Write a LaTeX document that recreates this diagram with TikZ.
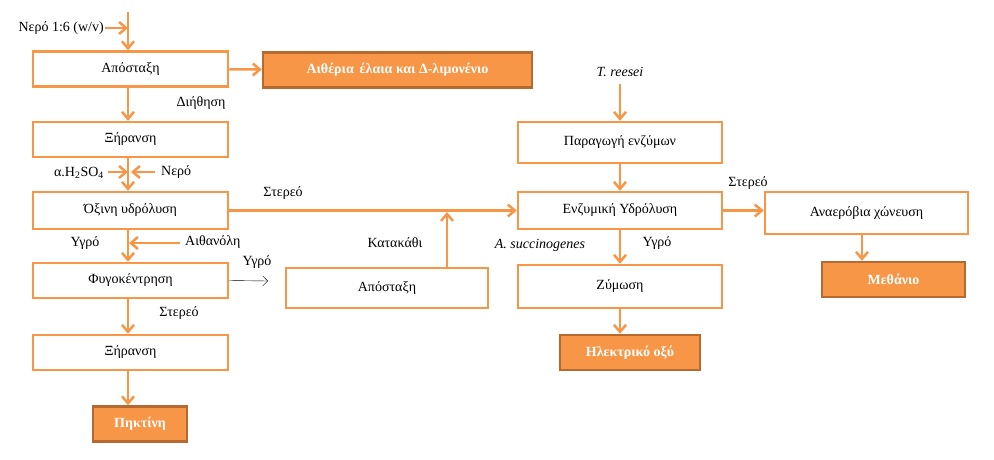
\documentclass[tikz,border=0pt]{standalone}
\usepackage{fontspec}
\setmainfont{Liberation Serif}
\usetikzlibrary{arrows.meta}
\definecolor{org}{HTML}{F79646}
\definecolor{orgd}{HTML}{B66A2F}
\begin{document}
\begin{tikzpicture}[x=1pt,y=-1pt,
 box/.style={draw=org,line width=2.5pt,fill=white,minimum height=35pt,minimum width=195pt,font=\fontsize{14}{16}\selectfont,inner sep=0},
 res/.style={draw=orgd,line width=2.5pt,fill=org,text=white,font=\bfseries\fontsize{14}{16}\selectfont,minimum height=35pt,inner sep=0},
 arr/.style={draw=org,line width=2.5pt,-{Straight Barb[length=7pt,width=12pt,line width=2.5pt]}},
 lab/.style={font=\fontsize{14}{16}\selectfont,inner sep=1pt}]
\useasboundingbox (0,0) rectangle (994,459);
\node[box] (a1) at (130.5,69) {Απόσταξη};
\node[res,minimum width=269pt] (oil) at (397.5,70) {Αιθέρια\, έλαια και Δ-λιμονένιο};
\node[box] (x1) at (130.5,139.5) {Ξήρανση};
\node[box,minimum height=37pt] (ox) at (130.5,210.5) {Όξινη υδρόλυση};
\node[box] (fy) at (130.5,280.5) {Φυγοκέντρηση};
\node[box] (x2) at (130.5,352.5) {Ξήρανση};
\node[res,minimum width=94pt] (pk) at (140,424) {Πηκτίνη};
\node[box,minimum width=202pt,minimum height=40pt] (a2) at (387,288) {Απόσταξη};
\node[box,minimum width=204pt,minimum height=41pt] (par) at (620,142.5) {Παραγωγή ενζύμων};
\node[box,minimum width=204pt,minimum height=37pt] (enz) at (620,210.5) {Ενζυμική Υδρόλυση};
\node[box,minimum width=204pt,minimum height=43pt] (zy) at (620,286.5) {Ζύμωση};
\node[res,minimum width=140pt] (el) at (630,352.5) {Ηλεκτρικό οξύ};
\node[box,minimum width=203pt,minimum height=42pt] (an) at (866.5,213) {Αναερόβια χώνευση};
\node[res,minimum width=143pt] (me) at (893.5,279.5) {Μεθάνιο};
\coordinate (top) at (128,12);
\coordinate (w1) at (105,28);
\coordinate (w1e) at (128,28);
\node[lab,anchor=east] (l1) at (105,28) {Νερό 1:6 (w/v)};
\draw[arr] (top) -- (top|-a1.north);
\draw[arr] (w1) -- (w1e);
\draw[arr] (a1) -- (oil);
\draw[arr] (a1.south-|top) -- (x1.north-|top);
\node[lab] (l2) at (201,103) {Διήθηση};
\draw[arr] (x1.south-|top) -- (ox.north-|top);
\coordinate (h1) at (108,172); \coordinate (h1e) at (128,172);
\coordinate (n1) at (155,172); \coordinate (n1e) at (131,172);
\draw[arr] (h1) -- (h1e);
\draw[arr] (n1) -- (n1e);
\node[lab,anchor=east] (l3) at (105,173) {α.H\textsubscript{2}SO\textsubscript{4}};
\node[lab,anchor=west] (l4) at (160,172) {Νερό};
\draw[arr] (ox.east) -- (enz.west);
\node[lab] (l5) at (283,193) {Στερεό};
\draw[arr] (a2.north-|447,0) -- (447,212);
\node[lab] (l6) at (395,243) {Κατακάθι};
\draw[arr] (ox.south-|top) -- (fy.north-|top);
\coordinate (et) at (180,243); \coordinate (ete) at (129,243);
\draw[arr] (et) -- (ete);
\node[lab] (l7) at (85,243) {Υγρό};
\node[lab,anchor=west] (l8) at (184,242) {Αιθανόλη};
\coordinate (fe) at (268,281);
\draw[-{Straight Barb[length=5pt,width=10pt]},thin] (fy.east) -- (fe);
\node[lab] (l9) at (257,262) {Υγρό};
\draw[arr] (fy.south-|top) -- (x2.north-|top);
\node[lab] (l10) at (179,313) {Στερεό};
\draw[arr] (x2.south-|top) -- (pk.north-|top);
\node[lab,font=\itshape\fontsize{14}{16}\selectfont] (l11) at (620,72) {T. reesei};
\coordinate (tr) at (620,84);
\draw[arr] (tr) -- (par.north);
\draw[arr] (par) -- (enz);
\draw[arr] (enz) -- (zy);
\node[lab,font=\itshape\fontsize{14}{16}\selectfont] (l12) at (540,245) {A. succinogenes};
\node[lab] (l13) at (657,243) {Υγρό};
\draw[arr] (zy) -- (el.north-|zy);
\draw[arr] (enz.east) -- (an.west|-enz.east);
\node[lab] (l14) at (748,183) {Στερεό};
\draw[arr] (an.south-|862,0) -- (me.north-|862,0);
\end{tikzpicture}
\end{document}
